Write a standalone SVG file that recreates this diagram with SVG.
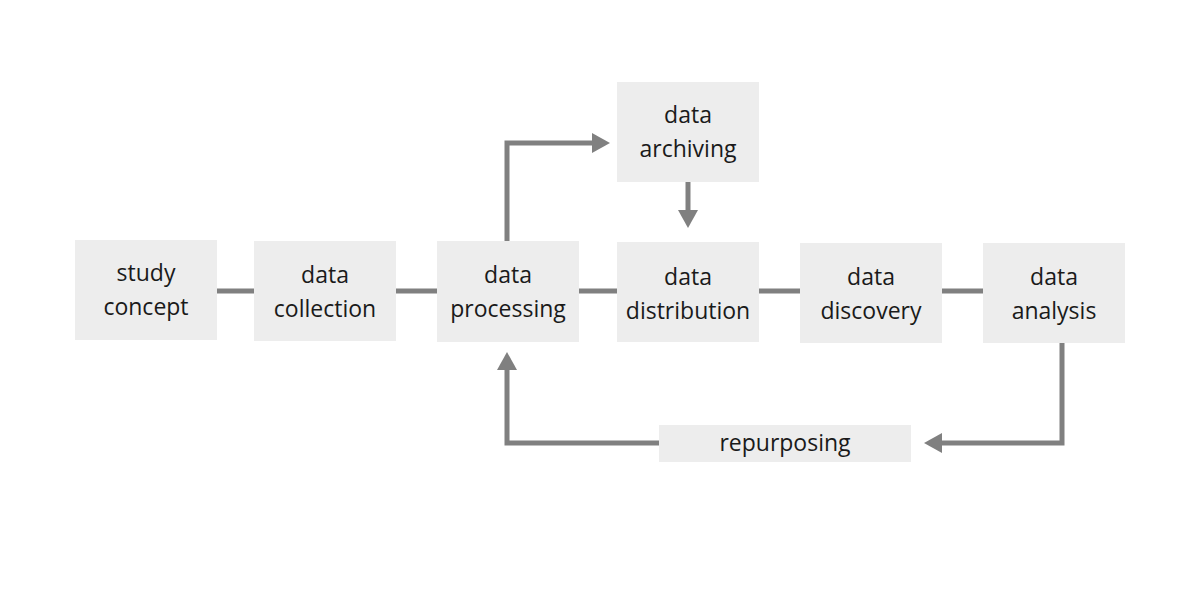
<svg xmlns="http://www.w3.org/2000/svg" width="1200" height="600" viewBox="0 0 1200 600">
<style>
.box{fill:#ededed}
.t{font-family:"Open Sans","Liberation Sans",sans-serif;font-size:23px;fill:#1a1a1a;text-anchor:middle}
.c{fill:none;stroke:#808080;stroke-width:5}
</style>
<defs>
<marker id="ah" markerUnits="userSpaceOnUse" markerWidth="18" markerHeight="20" refX="0" refY="10" orient="auto">
<path d="M0,0 L18,10 L0,20 Z" fill="#808080"/>
</marker>
</defs>
<rect width="1200" height="600" fill="#fff"/>
<g id="connectors">
<line class="c" x1="217" y1="291" x2="254" y2="291"/>
<line class="c" x1="396" y1="291" x2="437" y2="291"/>
<line class="c" x1="579" y1="291" x2="617" y2="291"/>
<line class="c" x1="759" y1="291" x2="800" y2="291"/>
<line class="c" x1="942" y1="291" x2="983" y2="291"/>
<polyline class="c" points="507,241 507,143 592,143" marker-end="url(#ah)"/>
<line class="c" x1="688" y1="182" x2="688" y2="210" marker-end="url(#ah)"/>
<polyline class="c" points="1062,343 1062,443 942,443" marker-end="url(#ah)"/>
<polyline class="c" points="659,443 507,443 507,370" marker-end="url(#ah)"/>
</g>
<g id="study-concept"><rect class="box" x="75" y="240" width="142" height="100"/><text class="t" x="146" y="281">study</text><text class="t" x="146" y="315">concept</text></g>
<g id="data-collection"><rect class="box" x="254" y="241" width="142" height="100"/><text class="t" x="325" y="283">data</text><text class="t" x="325" y="317">collection</text></g>
<g id="data-processing"><rect class="box" x="437" y="241" width="142" height="101"/><text class="t" x="508" y="283">data</text><text class="t" x="508" y="317">processing</text></g>
<g id="data-archiving"><rect class="box" x="617" y="82" width="142" height="100"/><text class="t" x="688" y="123">data</text><text class="t" x="688" y="157">archiving</text></g>
<g id="data-distribution"><rect class="box" x="617" y="242" width="142" height="100"/><text class="t" x="688" y="285">data</text><text class="t" x="688" y="319">distribution</text></g>
<g id="data-discovery"><rect class="box" x="800" y="243" width="142" height="100"/><text class="t" x="871" y="285">data</text><text class="t" x="871" y="319">discovery</text></g>
<g id="data-analysis"><rect class="box" x="983" y="243" width="142" height="100"/><text class="t" x="1054" y="285">data</text><text class="t" x="1054" y="319">analysis</text></g>
<g id="repurposing"><rect class="box" x="659" y="425" width="252" height="37"/><text class="t" x="785" y="451">repurposing</text></g>
</svg>
